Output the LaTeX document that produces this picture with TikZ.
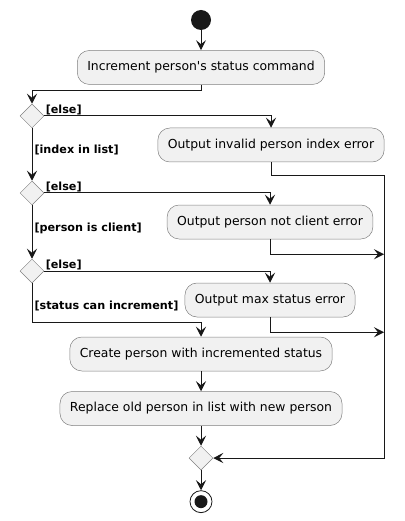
\documentclass[tikz,border=0pt]{standalone}
\usepackage{fontspec}
\setmainfont{DejaVu Sans}
\usepackage{xcolor}
\usetikzlibrary{arrows.meta,positioning,shapes.geometric}
\definecolor{actfill}{HTML}{F1F1F1}
\definecolor{lineclr}{HTML}{181818}
\tikzset{
  actbox/.style={rectangle, draw=black!50, rounded corners=12pt, fill=actfill,
                 minimum height=34pt, inner xsep=10pt, line width=0.5pt,
                 font=\fontsize{12.4}{14}\selectfont},
  decbox/.style={diamond, draw=black!50, fill=actfill, line width=0.5pt,
                 minimum width=24pt, minimum height=24pt, inner sep=0pt},
  startdot/.style={circle, fill=lineclr, minimum size=20pt, inner sep=0pt},
  enddot/.style={circle, draw=lineclr, fill=white, line width=0.8pt,
                 minimum size=22pt, inner sep=0pt,
                 path picture={\fill[lineclr] (path picture bounding box.center) circle (6.5pt);}},
  arr/.style={-{Stealth[length=10pt,width=10pt,inset=4pt]}, line width=1pt, draw=lineclr},
  lbl/.style={font=\fontsize{11.2}{13}\selectfont\bfseries, inner sep=2pt},
}
\begin{document}
\begin{tikzpicture}[x=1pt, y=1pt, node distance=20pt]
  \useasboundingbox (0,0) rectangle (404,-521);
  \node[startdot] (start) at (201,-20) {};
  \node[actbox, below=of start] (incr) {Increment person\textquotesingle s status command};
  \node[decbox] (chkidx) at (32,-116) {};
  \node[actbox] (badidx) at (271,-145) {Output invalid person index error};
  \node[decbox] (chkcli) at (32,-193) {};
  \node[actbox] (notcli) at (270,-222) {Output person not client error};
  \node[decbox] (chkmax) at (32,-271) {};
  \node[actbox] (maxsts) at (270,-300) {Output max status error};
  \node[actbox] (create) at (201,-354) {Create person with incremented status};
  \node[actbox, below=of create] (replace) {Replace old person in list with new person};
  \node[decbox, below=of replace] (merge) {};
  \node[enddot, below=of merge] (stop) {};
  \coordinate (railtop) at (384,-176);
  \coordinate (clijoin) at ([yshift=-15pt]notcli.south);
  \coordinate (maxjoin) at ([yshift=-15pt]maxsts.south);
  \draw[arr] (start) -- (incr);
  \draw[arr] (incr.south) -- ++(0,-6) -| (chkidx.north);
  \draw[arr] (chkidx.east) node[lbl, anchor=south west, inner sep=1pt] {[else]} -| (badidx.north);
  \draw[arr] (chkidx.south) -- node[lbl, right, pos=0.42] {[index in list]} (chkcli.north);
  \draw[arr] (chkcli.east) node[lbl, anchor=south west, inner sep=1pt] {[else]} -| (notcli.north);
  \draw[arr] (chkcli.south) -- node[lbl, right, pos=0.43] {[person is client]} (chkmax.north);
  \draw[arr] (chkmax.east) node[lbl, anchor=south west, inner sep=1pt] {[else]} -| (maxsts.north);
  \draw[arr] (chkmax.south) -- node[lbl, right, pos=0.59] {[status can increment]} ++(0,-39) -| (create.north);
  \draw[arr] (badidx.south) |- (railtop) |- (merge.east);
  \draw[arr] (notcli.south) -- (clijoin) -- (clijoin -| railtop);
  \draw[arr] (maxsts.south) -- (maxjoin) -- (maxjoin -| railtop);
  \draw[arr] (create) -- (replace);
  \draw[arr] (replace) -- (merge);
  \draw[arr] (merge) -- (stop);
\end{tikzpicture}
\end{document}
